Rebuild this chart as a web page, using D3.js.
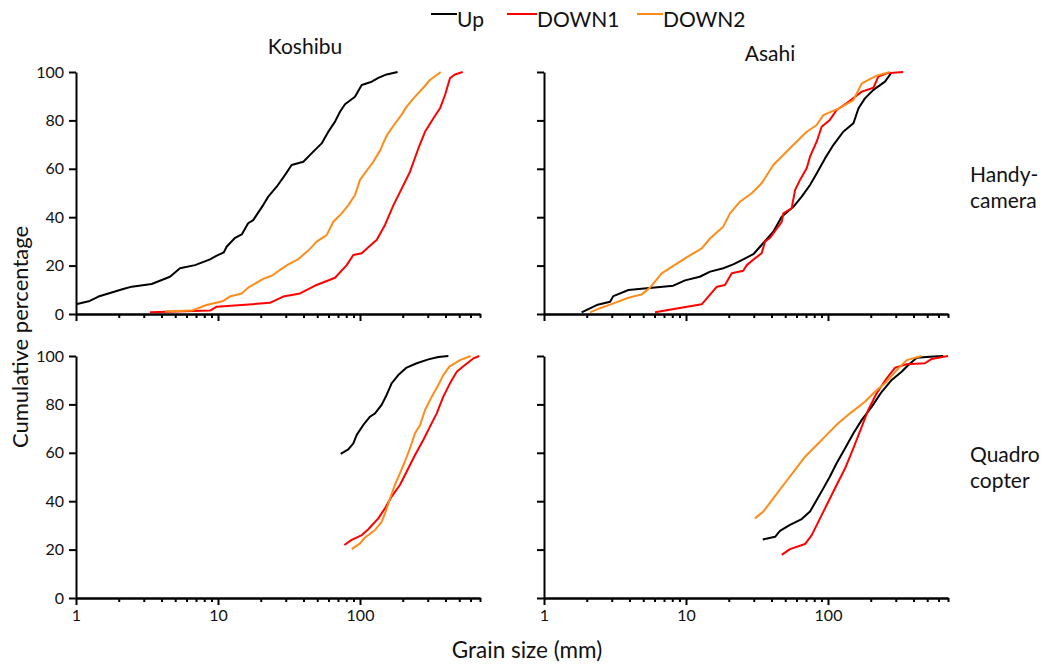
<!DOCTYPE html>
<html>
<head>
<meta charset="utf-8">
<script src="https://cdn.jsdelivr.net/npm/d3@7"></script>
<style>
  html, body { margin: 0; padding: 0; background: #fff; }
  svg { display: block; font-family: Lato, "Open Sans", sans-serif; }
</style>
</head>
<body>
<svg id="chart" width="1050" height="666"></svg>
<script>
// ---------- DATA: [grain size (mm), cumulative percentage] ----------
const seriesNames = ["Up", "DOWN1", "DOWN2"];
const siteNames = ["Koshibu", "Asahi"];
const methodNames = [["Handy-", "camera"], ["Quadro", "copter"]];
const yTicks = [0, 20, 40, 60, 80, 100];
const xMajorTicks = [1, 10, 100];
const xMinorTicks = [2,3,4,5,6,7,8,9,20,30,40,50,60,70,80,90,200,300,400,500,600,700];

const koshibuHandyUp = [[1,4.0],[1.25,5.4],[1.44,7.2],[1.69,8.5],[2.15,10.3],[2.47,11.3],[3.41,12.4],[4.59,15.4],[5.4,18.9],[6.89,20.2],[8.79,22.6],[9.8,24.1],[11.0,25.5],[11.5,27.8],[13.2,31.5],[14.7,32.9],[16.3,37.5],[17.7,38.8],[20.8,45.0],[22.6,48.5],[25.9,52.6],[29.6,57.4],[33.0,61.6],[39.9,62.9],[46.9,67.1],[53.7,70.5],[59.8,75.3],[66.7,79.5],[72.3,83.6],[78.4,86.7],[92.2,89.8],[102.8,94.6],[120.9,96.0],[134.6,97.6],[154,99.0],[184,100]];
const koshibuHandyDown1 = [[3.32,0.7],[8.79,1.4],[9.8,3.0],[23.2,4.6],[28.8,7.2],[37.8,8.5],[49.5,12.0],[66.7,15.0],[80.6,20.2],[89.7,24.4],[102.8,25.1],[117.6,28.2],[131,30.6],[150,36.8],[172,45.0],[197,51.9],[225,58.8],[258,68.5],[287,75.3],[329,80.9],[366,85.0],[397,90.5],[430,97.4],[466,99.0],[529,100]];
const koshibuHandyDown2 = [[4.24,1.0],[6.53,1.4],[8.3,3.7],[10.9,5.4],[12.1,7.2],[14.7,8.5],[16.3,10.9],[20.8,14.5],[23.9,15.8],[27.3,18.2],[31.3,20.5],[36.8,22.7],[43.2,26.2],[49.5,29.9],[58.2,32.6],[64.9,38.1],[74.3,41.6],[82.8,45.0],[92.2,49.2],[100,55.4],[111,59.1],[124,62.9],[138,67.4],[154,73.7],[172,77.8],[197,82.5],[213,85.7],[238,89.1],[279,93.5],[311,96.7],[370,100]];

const asahiHandyUp = [[1.84,0.7],[2.35,3.7],[2.92,5.1],[3.08,7.4],[3.93,9.9],[8.14,11.7],[9.84,13.9],[12.5,15.4],[14.8,17.5],[18.3,18.9],[21.5,20.5],[25.3,22.6],[29.8,24.7],[33.2,27.8],[41.2,34.0],[47.2,40.2],[57.0,44.3],[65.3,48.5],[74.7,53.3],[83.2,58.1],[95.3,64.3],[109,69.8],[128,75.3],[151,78.8],[164,85.0],[182,89.1],[209,92.6],[252,96.0],[281,99.9]];
const asahiHandyDown1 = [[6.05,0.7],[12.9,4.0],[16.5,11.3],[18.8,12.0],[21.0,16.8],[25.3,17.9],[26.8,20.2],[30.6,23.0],[34.1,25.1],[36.0,29.9],[39.1,31.5],[47.2,38.1],[48.5,41.6],[55.5,43.7],[58.6,51.2],[63.5,55.4],[70.8,60.2],[74.7,65.0],[83.2,71.2],[90.2,77.4],[103,80.2],[115,84.3],[135,87.1],[173,91.9],[209,93.5],[226,98.1],[259,99.5],[339,100]];
const asahiHandyDown2 = [[2.11,0.7],[2.48,2.4],[3.08,4.4],[3.93,6.7],[4.88,8.1],[5.58,10.9],[6.74,16.8],[7.93,19.5],[10.1,23.4],[12.9,27.1],[14.8,31.3],[18.3,36.1],[20.4,41.6],[24.0,46.4],[29.0,49.9],[34.1,54.0],[41.2,61.6],[54.0,68.5],[70.8,75.3],[83.2,78.1],[92.7,82.2],[121.5,85.2],[151,88.4],[173,95.3],[220,98.5],[273,100]];

const koshibuQuadUp = [[73.1,59.6],[82.7,61.4],[89.8,63.9],[94.8,67.4],[105.5,71.5],[117.6,74.9],[127.6,76.3],[142,79.8],[154,83.9],[167,88.7],[186,92.1],[213,95.2],[251,97.0],[303,98.6],[356,99.6],[419,100]];
const koshibuQuadDown1 = [[77.6,21.9],[87.4,24.0],[103,26.0],[114.5,28.4],[134.6,32.9],[150,37.1],[167,41.9],[191,46.7],[213,52.2],[244,59.1],[279,65.3],[311,70.8],[347,76.3],[386,83.2],[430,88.7],[480,93.5],[548,96.3],[628,99.0],[692,100]];
const koshibuQuadDown2 = [[87.4,20.2],[100,22.6],[108,24.9],[127.6,28.1],[142,31.5],[150,35.0],[163,41.2],[176,46.7],[191,51.5],[207,56.3],[225,61.9],[244,68.1],[265,71.5],[287,77.7],[320,83.2],[356,88.0],[386,92.1],[426,95.6],[506,98.3],[602,100]];

const asahiQuadUp = [[34.7,24.2],[42.4,25.3],[45.9,27.7],[54.0,30.2],[65.3,32.6],[74.7,35.7],[83.2,40.5],[92.7,45.3],[103,50.1],[115,55.7],[132,61.9],[151,68.1],[173,73.6],[203,79.0],[239,85.2],[281,90.1],[330,93.5],[368,96.3],[422,99.3],[523,99.7],[649,100]];
const asahiQuadDown1 = [[47.2,17.8],[54.0,20.2],[68.9,22.3],[76.8,26.0],[87.9,32.9],[100.5,39.8],[115,46.7],[132,53.6],[151,61.9],[173,70.8],[192,77.7],[220,84.6],[259,90.8],[297,95.2],[358,96.6],[482,97.0],[537,98.8],[700,100]];
const asahiQuadDown2 = [[30.6,32.9],[35.0,35.7],[41.2,41.2],[48.5,46.7],[58.6,52.9],[68.9,58.4],[81.0,62.5],[97.9,67.4],[118,72.2],[143,76.3],[182,81.1],[214,85.2],[259,89.4],[305,94.2],[358,98.3],[457,100]];

const colors = ["#000000", "#ff0000", "#ff8c1a"];

// ---------- LAYOUT ----------
const svg = d3.select("#chart");
const colX = [[76, 480], [544, 948]];
const rowY = [[314, 72], [598, 356]];

const panels = [
  { col: 0, row: 0, series: [koshibuHandyUp, koshibuHandyDown1, koshibuHandyDown2] },
  { col: 1, row: 0, series: [asahiHandyUp, asahiHandyDown1, asahiHandyDown2] },
  { col: 0, row: 1, series: [koshibuQuadUp, koshibuQuadDown1, koshibuQuadDown2] },
  { col: 1, row: 1, series: [asahiQuadUp, asahiQuadDown1, asahiQuadDown2] }
];

panels.forEach(p => {
  const x = d3.scaleLog().domain([1, 700]).range(colX[p.col]);
  const y = d3.scaleLinear().domain([0, 100]).range(rowY[p.row]);
  const g = svg.append("g");

  // y axis
  const ya = g.append("g")
    .attr("transform", `translate(${colX[p.col][0]},0)`)
    .call(d3.axisLeft(y).tickValues(yTicks).tickSize(7).tickSizeOuter(0)
      .tickFormat(p.col === 0 ? d3.format("d") : () => ""));
  // x axis minor
  const xm = g.append("g")
    .attr("transform", `translate(0,${rowY[p.row][0]})`)
    .call(d3.axisBottom(x).tickValues(xMinorTicks).tickSize(4).tickSizeOuter(0).tickFormat(() => ""));
  // x axis major
  const xa = g.append("g")
    .attr("transform", `translate(0,${rowY[p.row][0]})`)
    .call(d3.axisBottom(x).tickValues(xMajorTicks).tickSize(7).tickSizeOuter(0)
      .tickFormat(p.row === 1 ? d3.format("d") : () => ""));

  [ya, xm, xa].forEach(a => {
    a.selectAll("path.domain").attr("stroke", "#000").attr("stroke-width", 2);
    a.selectAll(".tick line").attr("stroke", "#000").attr("stroke-width", 2);
    a.selectAll(".tick text").attr("fill", "#111").style("font-size", "16px").style("font-family", "Lato, sans-serif");
  });
  ya.selectAll(".tick text").attr("x", -12);
  xa.selectAll(".tick text").attr("y", 12);

  const line = d3.line().x(d => x(d[0])).y(d => y(d[1]));
  p.series.forEach((s, i) => {
    g.append("path").datum(s)
      .attr("d", line)
      .attr("fill", "none")
      .attr("stroke", colors[i])
      .attr("stroke-width", 2)
      .attr("stroke-linejoin", "round");
  });
});

// ---------- TEXT ----------
const txt = (x, y, s, size, anchor) => svg.append("text")
  .attr("x", x).attr("y", y).text(s)
  .attr("fill", "#111")
  .style("font-size", size + "px")
  .attr("text-anchor", anchor || "start");

txt(305, 54, siteNames[0], 21, "middle");
txt(770, 61, siteNames[1], 21, "middle");
txt(970, 182, methodNames[0][0], 21);
txt(970, 208, methodNames[0][1], 21);
txt(970, 462, methodNames[1][0], 21);
txt(970, 488, methodNames[1][1], 21);
txt(527, 658, "Grain size (mm)", 22.5, "middle");
svg.append("text")
  .attr("transform", "translate(28,337) rotate(-90)")
  .attr("text-anchor", "middle")
  .attr("fill", "#111")
  .style("font-size", "22px")
  .text("Cumulative percentage");

// legend
const legendX = [[431, 457], [507, 537], [637, 663]];
seriesNames.forEach((n, i) => {
  svg.append("line")
    .attr("x1", legendX[i][0]).attr("x2", legendX[i][1])
    .attr("y1", 14).attr("y2", 14)
    .attr("stroke", colors[i]).attr("stroke-width", 2);
  txt(legendX[i][1], 27, n, 21);
});
</script>
</body>
</html>
